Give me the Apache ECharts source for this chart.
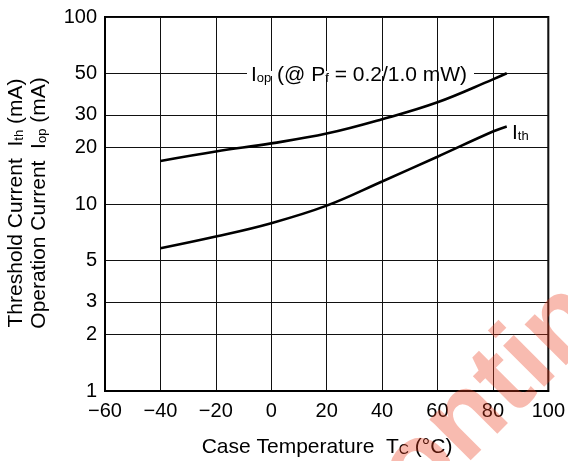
<!DOCTYPE html>
<html>
<head>
<meta charset="utf-8">
<script src="https://cdn.jsdelivr.net/npm/echarts@6/dist/echarts.min.js"></script>
<style>
html,body{margin:0;padding:0;background:#fff;}
#c{width:568px;height:461px;}
</style>
</head>
<body>
<div id="c"></div>
<script>
// ---- data ----
const temps = [-40, -20, 0, 20, 40, 60, 80, 85];
const iop   = [17.0, 19.1, 21.1, 23.8, 28.4, 35.0, 46.4, 50.0];
const ith   = [5.8, 6.7, 7.9, 9.8, 13.2, 17.9, 24.4, 26.0];
const yTicks = [1, 2, 3, 5, 10, 20, 30, 50, 100];
const xMin = -60, xMax = 100, xStep = 20;

const FONT = 'Liberation Sans, Arial, Helvetica, sans-serif';
const chart = echarts.init(document.getElementById('c'), null, {renderer: 'canvas'});

function richSet(size, sub, lh) {
  return {
    m: {fontSize: size, fontFamily: FONT, fill: '#000', lineHeight: lh, verticalAlign: 'middle'},
    s: {fontSize: sub, fontFamily: FONT, fill: '#000', verticalAlign: 'middle', padding: [6, 0, 0, 0]}
  };
}

const option = {
  animation: false,
  backgroundColor: '#fff',
  grid: {left: 105, right: 19, top: 17, bottom: 70, show: true, borderColor: '#000', borderWidth: 2, backgroundColor: 'transparent'},
  xAxis: {
    type: 'value', min: xMin, max: xMax, interval: xStep,
    axisLine: {show: true, onZero: false, lineStyle: {color: '#000', width: 2}},
    axisTick: {show: false},
    splitLine: {show: true, lineStyle: {color: '#111', width: 1}},
    axisLabel: {color: '#000', fontSize: 20, fontFamily: FONT, margin: 10,
      formatter: v => String(v).replace('-', '\u2212')}
  },
  yAxis: {
    type: 'log', logBase: 10, min: 1, max: 100,
    axisLine: {show: true, onZero: false, lineStyle: {color: '#000', width: 2}},
    axisTick: {show: false, customValues: yTicks},
    splitLine: {show: true, lineStyle: {color: '#111', width: 1}},
    axisLabel: {color: '#000', fontSize: 20, fontFamily: FONT, margin: 8, customValues: yTicks,
      formatter: v => String(Math.round(v))}
  },
  series: [
    {type: 'line', name: 'Iop', data: temps.map((t, i) => [t, iop[i]]), smooth: 0.4, showSymbol: false,
     lineStyle: {color: '#000', width: 2.6}, z: 5},
    {type: 'line', name: 'Ith', data: temps.map((t, i) => [t, ith[i]]), smooth: 0.4, showSymbol: false,
     lineStyle: {color: '#000', width: 2.6}, z: 5}
  ],
  graphic: [
    // break in the 50 mA grid line behind the Iop label
    {type: 'rect', shape: {x: 247, y: 71, width: 227, height: 5}, style: {fill: '#fff'}, z: 10},
    {type: 'text', x: 359, y: 75, z: 11, style: {
      text: '{m|I}{s|op}{m| (@ P}{s|f}{m| = 0.2/1.0 mW)}', rich: richSet(21, 13, 24),
      align: 'center', verticalAlign: 'middle'}},
    {type: 'text', x: 512, y: 133, z: 11, style: {
      text: '{m|I}{s|th}', rich: richSet(21, 13, 24), align: 'left', verticalAlign: 'middle'}},
    {type: 'text', x: 327, y: 447, z: 11, style: {
      text: '{m|Case Temperature  T}{s|C}{m| (\u00B0C)}',
      rich: richSet(21, 14, 24),
      align: 'center', verticalAlign: 'middle'}},
    {type: 'text', x: 28, y: 203, rotation: Math.PI / 2, z: 11, style: {
      text: '{m|Threshold Current  I}{s|th}{m| (mA)}\n{m|Operation Current  I}{s|op}{m| (mA)}',
      rich: richSet(21, 13, 23),
      align: 'center', verticalAlign: 'middle'}},
    // watermark
    {type: 'text', x: 271, y: 695, rotation: Math.PI / 4, z: 100, silent: true, style: {
      text: 'Discontinued', font: 'bold 110px ' + FONT, fill: 'rgba(235,60,30,0.35)',
      align: 'left', verticalAlign: 'bottom'}}
  ]
};
chart.setOption(option);
</script>
</body>
</html>
